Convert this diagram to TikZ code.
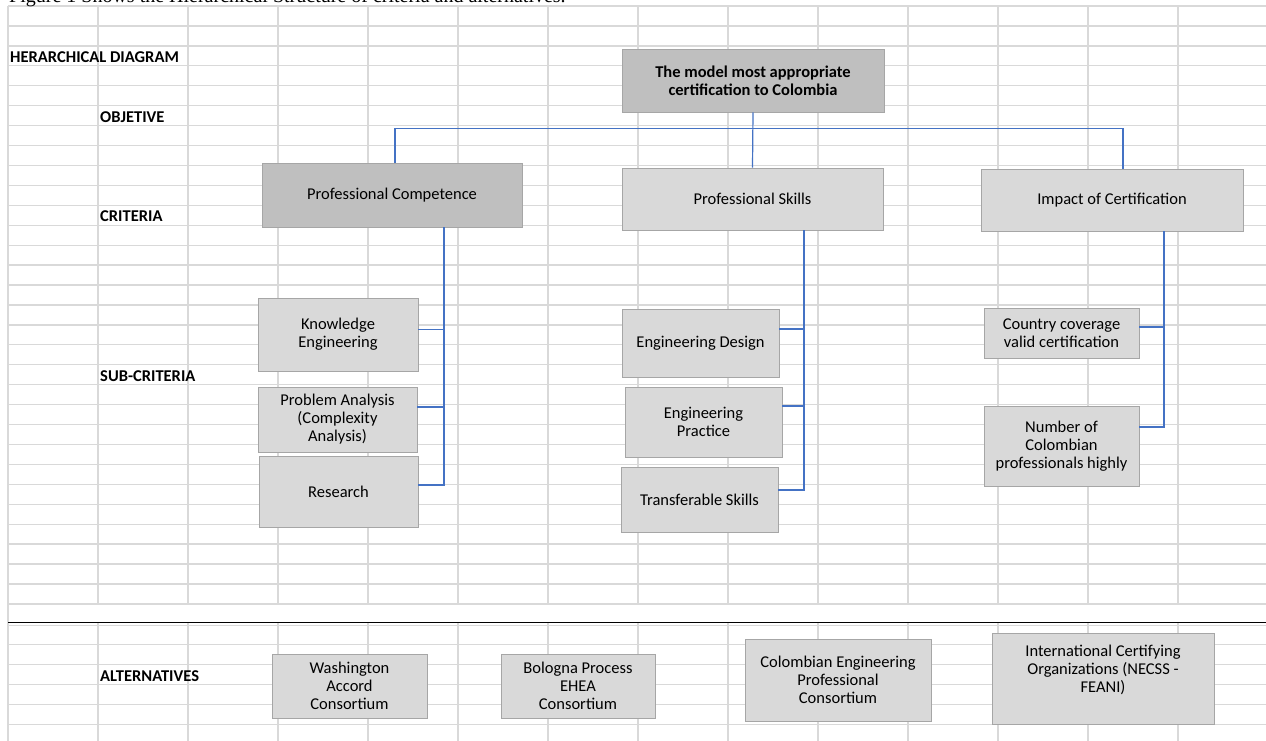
\documentclass[tikz,border=0pt]{standalone}
\usepackage{fontspec}
\setmainfont{Carlito}
\newfontfamily\captionfont{Liberation Serif}
\usepackage{tikz}
\usetikzlibrary{
  positioning,
  calc
}
\definecolor{gridcolor}{RGB}{217, 217, 217}
\definecolor{darkfill}{RGB}{191, 191, 191}
\definecolor{lightfill}{RGB}{217, 217, 217}
\definecolor{boxborder}{RGB}{166, 166, 166}
\definecolor{linkcolor}{RGB}{68, 114, 196}
\definecolor{labelcolor}{RGB}{0, 0, 0}
\tikzset{
boxtext/.style={
  align=center,
  font=\fontsize{16.5}{18}\selectfont,
  text=labelcolor,
  inner sep=2pt
},
cellbox/.style={
  draw=boxborder,
  line width=0.9pt,
  fill=lightfill,
  boxtext
},
darkbox/.style={
  cellbox,
  fill=darkfill
},
rowlabel/.style={
  font=\fontsize{16.5}{18}\selectfont\bfseries,
  text=labelcolor,
  inner sep=0pt,
  anchor=base west
},
gridline/.style={
  draw=gridcolor,
  line width=1.3pt
},
divider/.style={
  draw=black,
  line width=1.2pt
},
link/.style={
  draw=linkcolor,
  line width=1.2pt
}
}

\begin{document}
\begin{tikzpicture}[x=1pt, y=-1pt]
  \useasboundingbox (0,0) rectangle (1266,741);
  \clip (0,0) rectangle (1266,741);
  \fill[white] (0,0) rectangle (1266,741);

  % spreadsheet grid
  \foreach \k in {0,...,30}
    \draw[gridline] (8,{6+19.93*\k}) -- (1266,{6+19.93*\k});
  \foreach \k in {0,...,4}
    \draw[gridline] (8,{644.5+20*\k}) -- (1266,{644.5+20*\k});
  \foreach \k in {1,...,13} {
    \draw[gridline] ({8+90*\k},6) -- ({8+90*\k},604);
    \draw[gridline] ({8+90*\k},623) -- ({8+90*\k},741);
  }
  \draw[gridline] (8,6) -- (8,741);
  \draw[gridline] (8,625.5) -- (1266,625.5);
  \draw[divider] (8,622.5) -- (1266,622.5);

  % caption, cut by the page edge
  \node[anchor=base west, inner sep=0pt, font=\captionfont\fontsize{20}{22}\selectfont] (caption) at (9,2.5)
    {Figure 1 Shows the Hierarchical Structure of criteria and alternatives.};

  % row labels
  \node[rowlabel] (lblhier) at (10,62.5) {HERARCHICAL DIAGRAM};
  \node[rowlabel] (lblobj) at (100,122.5) {OBJETIVE};
  \node[rowlabel] (lblcrit) at (100,221.5) {CRITERIA};
  \node[rowlabel] (lblsub) at (100,381.5) {SUB-CRITERIA};
  \node[rowlabel] (lblalt) at (100,681.5) {ALTERNATIVES};

  % objective and criteria
  \node[darkbox, minimum width=262pt, minimum height=63pt, font=\fontsize{16.5}{18}\selectfont\bfseries] (objective) at (753,80.5)
    {The model most appropriate\\certification to Colombia};
  \node[darkbox, minimum width=260pt, minimum height=64pt] (compet) at (392,195) {Professional Competence};
  \node[cellbox, minimum width=261pt, minimum height=62pt] (skills) at (752.5,199) {Professional Skills};
  \node[cellbox, minimum width=262pt, minimum height=62pt] (impact) at (1112,200) {Impact of Certification};

  % sub-criteria
  \node[cellbox, minimum width=160pt, minimum height=73pt] (know) at (338,334.5) {Knowledge\\Engineering};
  \node[cellbox, minimum width=159pt, minimum height=65pt] (probl) at (337.5,419.5) {Problem Analysis\\(Complexity\\Analysis)};
  \node[cellbox, minimum width=159pt, minimum height=71pt] (resea) at (338.5,491.5) {Research};
  \node[cellbox, minimum width=157pt, minimum height=68pt] (design) at (700.5,343) {Engineering Design};
  \node[cellbox, minimum width=157pt, minimum height=70pt] (pract) at (703.5,422) {Engineering\\Practice};
  \node[cellbox, minimum width=157pt, minimum height=65pt] (trans) at (699.5,499.5) {Transferable Skills};
  \node[cellbox, minimum width=155pt, minimum height=50pt] (coverage) at (1061.5,333) {Country coverage\\valid certification};
  \node[cellbox, minimum width=155pt, minimum height=80pt] (number) at (1061.5,446) {Number of\\Colombian\\professionals highly};

  % alternatives
  \node[cellbox, minimum width=155pt, minimum height=64pt] (washington) at (349.5,686) {Washington\\Accord\\Consortium};
  \node[cellbox, minimum width=154pt, minimum height=64pt] (bologna) at (578,686) {Bologna Process\\EHEA\\Consortium};
  \node[cellbox, minimum width=186pt, minimum height=82pt] (colombian) at (838,680) {Colombian Engineering\\Professional\\Consortium};
  \node[cellbox, minimum width=222pt, minimum height=91pt, text depth=19pt] (internat) at (1103,678.5) {International Certifying\\Organizations (NECSS -\\FEANI)};

  % connectors
  \draw[link] ([xshift=3pt]compet.north) |- ([yshift=-16pt]objective.south) -| ([xshift=11pt]impact.north);
  \draw[link] (objective.south) -- (skills.north);

  \coordinate (compbus) at ([xshift=52pt]compet.south);
  \draw[link] (compbus) |- ([yshift=6.5pt]resea.east);
  \draw[link] ([yshift=5pt]know.east) -| (compbus);
  \draw[link] ([yshift=12.5pt]probl.east) -| (compbus);

  \coordinate (skillbus) at ([xshift=51.5pt]skills.south);
  \draw[link] (skillbus) |- ([yshift=9.5pt]trans.east);
  \draw[link] ([yshift=14pt]design.east) -| (skillbus);
  \draw[link] ([yshift=16pt]pract.east) -| (skillbus);

  \coordinate (impbus) at ([xshift=52pt]impact.south);
  \draw[link] (impbus) |- ([yshift=19pt]number.east);
  \draw[link] ([yshift=6pt]coverage.east) -| (impbus);
\end{tikzpicture}
\end{document}
